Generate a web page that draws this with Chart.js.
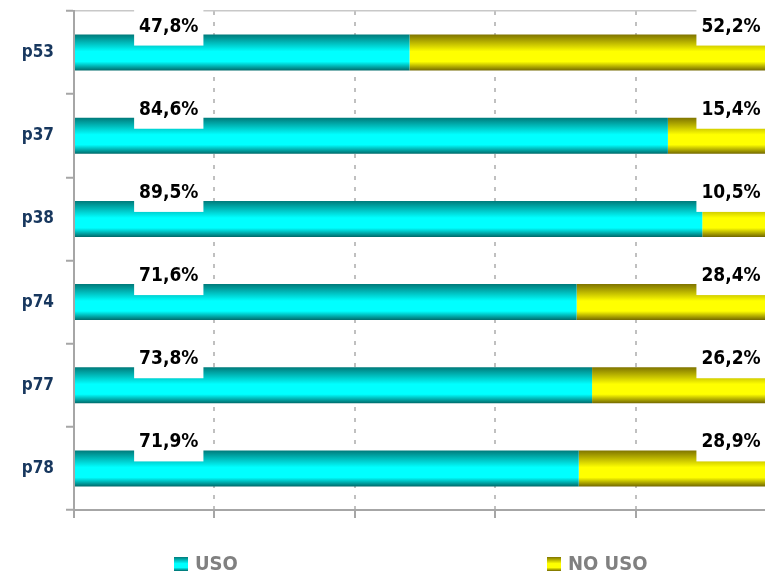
<!DOCTYPE html>
<html>
<head>
<meta charset="utf-8">
<script src="https://cdn.jsdelivr.net/npm/chart.js@4/dist/chart.umd.min.js"></script>
<style>
  html,body{margin:0;padding:0;background:#fff;overflow:hidden}
  #wrap{position:relative;width:765px;height:571px;overflow:hidden}
  #graf{position:absolute;left:0;top:0}
  .leg{position:absolute;font:bold 20px "DejaVu Sans Condensed","DejaVu Sans";line-height:20px;color:#808080;white-space:nowrap}
  .caja{position:absolute;width:14px;height:14px}
</style>
</head>
<body>
<div id="wrap">
  <canvas id="graf" width="780" height="571"></canvas>
  <div class="caja" id="cajaUso" style="left:174px;top:557px"></div>
  <div class="leg" style="left:195px;top:553px">USO</div>
  <div class="caja" id="cajaNoUso" style="left:547px;top:557px"></div>
  <div class="leg" style="left:568px;top:553px">NO USO</div>
</div>
<script>
// datos del grafico (porcentajes)
const categorias = ["p53", "p37", "p38", "p74", "p77", "p78"]
const uso = [47.8, 84.6, 89.5, 71.6, 73.8, 71.9]
const noUso = [52.2, 15.4, 10.5, 28.4, 26.2, 28.9]
const series = ["USO", "NO USO"]

// colores: [arriba, centro claro, abajo]
const colUso = ["#007a7a", "#00ffff", "#006a6a"]
const colNoUso = ["#7f7400", "#ffff00", "#736800"]

function cssDegradado(cols){
  return "linear-gradient(" + cols[0] + "," + cols[1] + " 47%," + cols[1] + " 75%," + cols[2] + ")"
}
// cajas de la leyenda con el mismo degradado
document.getElementById("cajaUso").style.background = cssDegradado(colUso)
document.getElementById("cajaNoUso").style.background = cssDegradado(colNoUso)

const grosor = 0.433 // parte de la categoria ocupada por la barra

function degradado(ctx, cols){
  const chart = ctx.chart
  const y = chart.scales.y
  if(!y || !chart.chartArea || ctx.dataIndex === undefined) return cols[1]
  const paso = Math.abs(y.getPixelForValue(1) - y.getPixelForValue(0))
  const centro = y.getPixelForValue(ctx.dataIndex)
  const media = paso * grosor / 2
  if(!isFinite(paso) || !isFinite(centro) || media <= 0) return cols[1]
  const g = chart.ctx.createLinearGradient(0, centro - media, 0, centro + media)
  g.addColorStop(0, cols[0])
  g.addColorStop(0.47, cols[1])
  g.addColorStop(0.75, cols[1])
  g.addColorStop(1, cols[2])
  return g
}

function fmt(v){
  return v.toFixed(1).replace(".", ",") + "%"
}

// etiquetas con fondo blanco encima de cada barra
const etiquetas = {
  id: "etiquetas",
  afterDatasetsDraw(chart){
    const c = chart.ctx
    const x = chart.scales.x
    c.save()
    c.font = "bold 19px 'DejaVu Sans Condensed', 'DejaVu Sans'"
    c.textAlign = "center"
    c.textBaseline = "alphabetic"
    chart.data.datasets.forEach((ds, di) => {
      const meta = chart.getDatasetMeta(di)
      meta.data.forEach((bar, i) => {
        const arriba = bar.y - bar.height / 2
        const cx = x.getPixelForValue(di === 0 ? 13.5 : 93.6)
        const txt = fmt(ds.data[i])
        const w = c.measureText(txt).width + 10
        const ty = arriba - 10
        c.fillStyle = "#ffffff"
        c.fillRect(cx - w / 2, ty - 21, w, 42)
        c.fillStyle = "#000000"
        c.fillText(txt, cx, ty + 7)
      })
    })
    c.restore()
  }
}

const chart = new Chart(document.getElementById("graf"), {
  type: "bar",
  data: {
    labels: categorias,
    datasets: [
      {label: series[0], data: uso, backgroundColor: ctx => degradado(ctx, colUso), borderWidth: 0},
      {label: series[1], data: noUso, backgroundColor: ctx => degradado(ctx, colNoUso), borderWidth: 0}
    ]
  },
  options: {
    indexAxis: "y",
    responsive: false,
    animation: false,
    devicePixelRatio: 1,
    barPercentage: grosor,
    categoryPercentage: 1,
    layout: {padding: {top: 11, right: 4, bottom: 53, left: 0}},
    plugins: {legend: {display: false}, tooltip: {enabled: false}},
    scales: {
      x: {
        stacked: true,
        min: 0,
        max: 100,
        ticks: {display: false, stepSize: 20},
        grid: {
          color: ctx => ctx.index === 0 ? "transparent" : "#c0c0c0",
          lineWidth: 2,
          tickColor: "#a6a6a6",
          tickWidth: 2,
          tickLength: 8
        },
        border: {color: "#a6a6a6", width: 2, dash: [4, 7]}
      },
      y: {
        stacked: true,
        afterFit: s => { s.width = 74; s.paddingTop = 0; s.paddingBottom = 0 },
        ticks: {color: "#17375e", font: {family: "'DejaVu Sans Condensed', 'DejaVu Sans'", size: 17, weight: "bold"}, padding: 12},
        grid: {
          color: ctx => ctx.index === 0 ? "#c8c8c8" : "transparent",
          lineWidth: 1.5,
          tickColor: "#a6a6a6",
          tickWidth: 2,
          tickLength: 8
        },
        border: {color: "#a6a6a6", width: 2}
      }
    }
  },
  plugins: [etiquetas]
})
</script>
</body>
</html>
